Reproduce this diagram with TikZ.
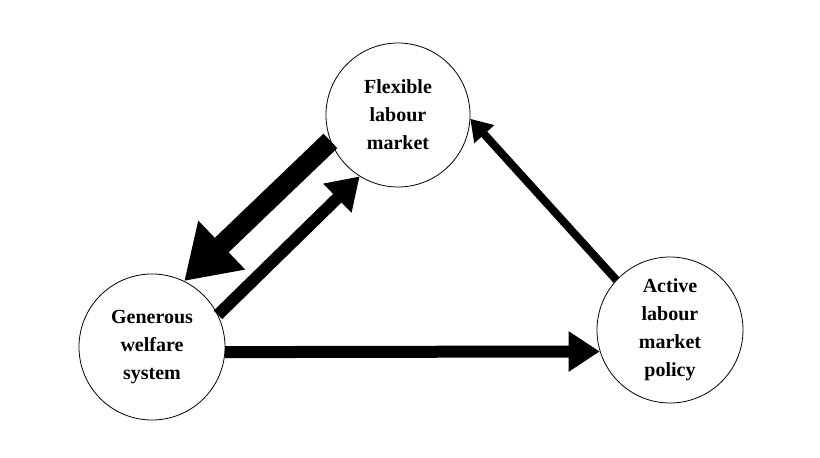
\documentclass[tikz,border=0pt]{standalone}
\usepackage{fontspec}
\setmainfont{Liberation Serif}
\usetikzlibrary{arrows.meta}

\tikzset{
  box/.style={draw, thick, circle, minimum size=144pt, inner sep=0pt,
    align=center, font=\bfseries\fontsize{20}{28}\selectfont},
  flow/.style={line width=#1, -{Triangle[length=2.6*#1, width=3.2*#1]}}
}

\begin{document}
\begin{tikzpicture}[x=1pt, y=-1pt]

    \useasboundingbox (0,0) rectangle (820,458);

    % The three circles
    \node[box] (flex) at (398,115) {Flexible\\labour\\market};
    \node[box, minimum size=146pt] (gen) at (152,347) {Generous\\welfare\\system};
    \node[box, minimum size=146pt] (alm) at (670,330) {Active\\labour\\market\\policy};

    % Arrows between them
    \draw[flow=20pt] (flex.201) -- (gen.64);
    \draw[flow=12pt] (gen.26) -- (flex.238);
    \draw[flow=12pt] (gen.356) -- (alm.197);
    \draw[flow=8pt] (alm.137) -- (flex.357);

\end{tikzpicture}
\end{document}
